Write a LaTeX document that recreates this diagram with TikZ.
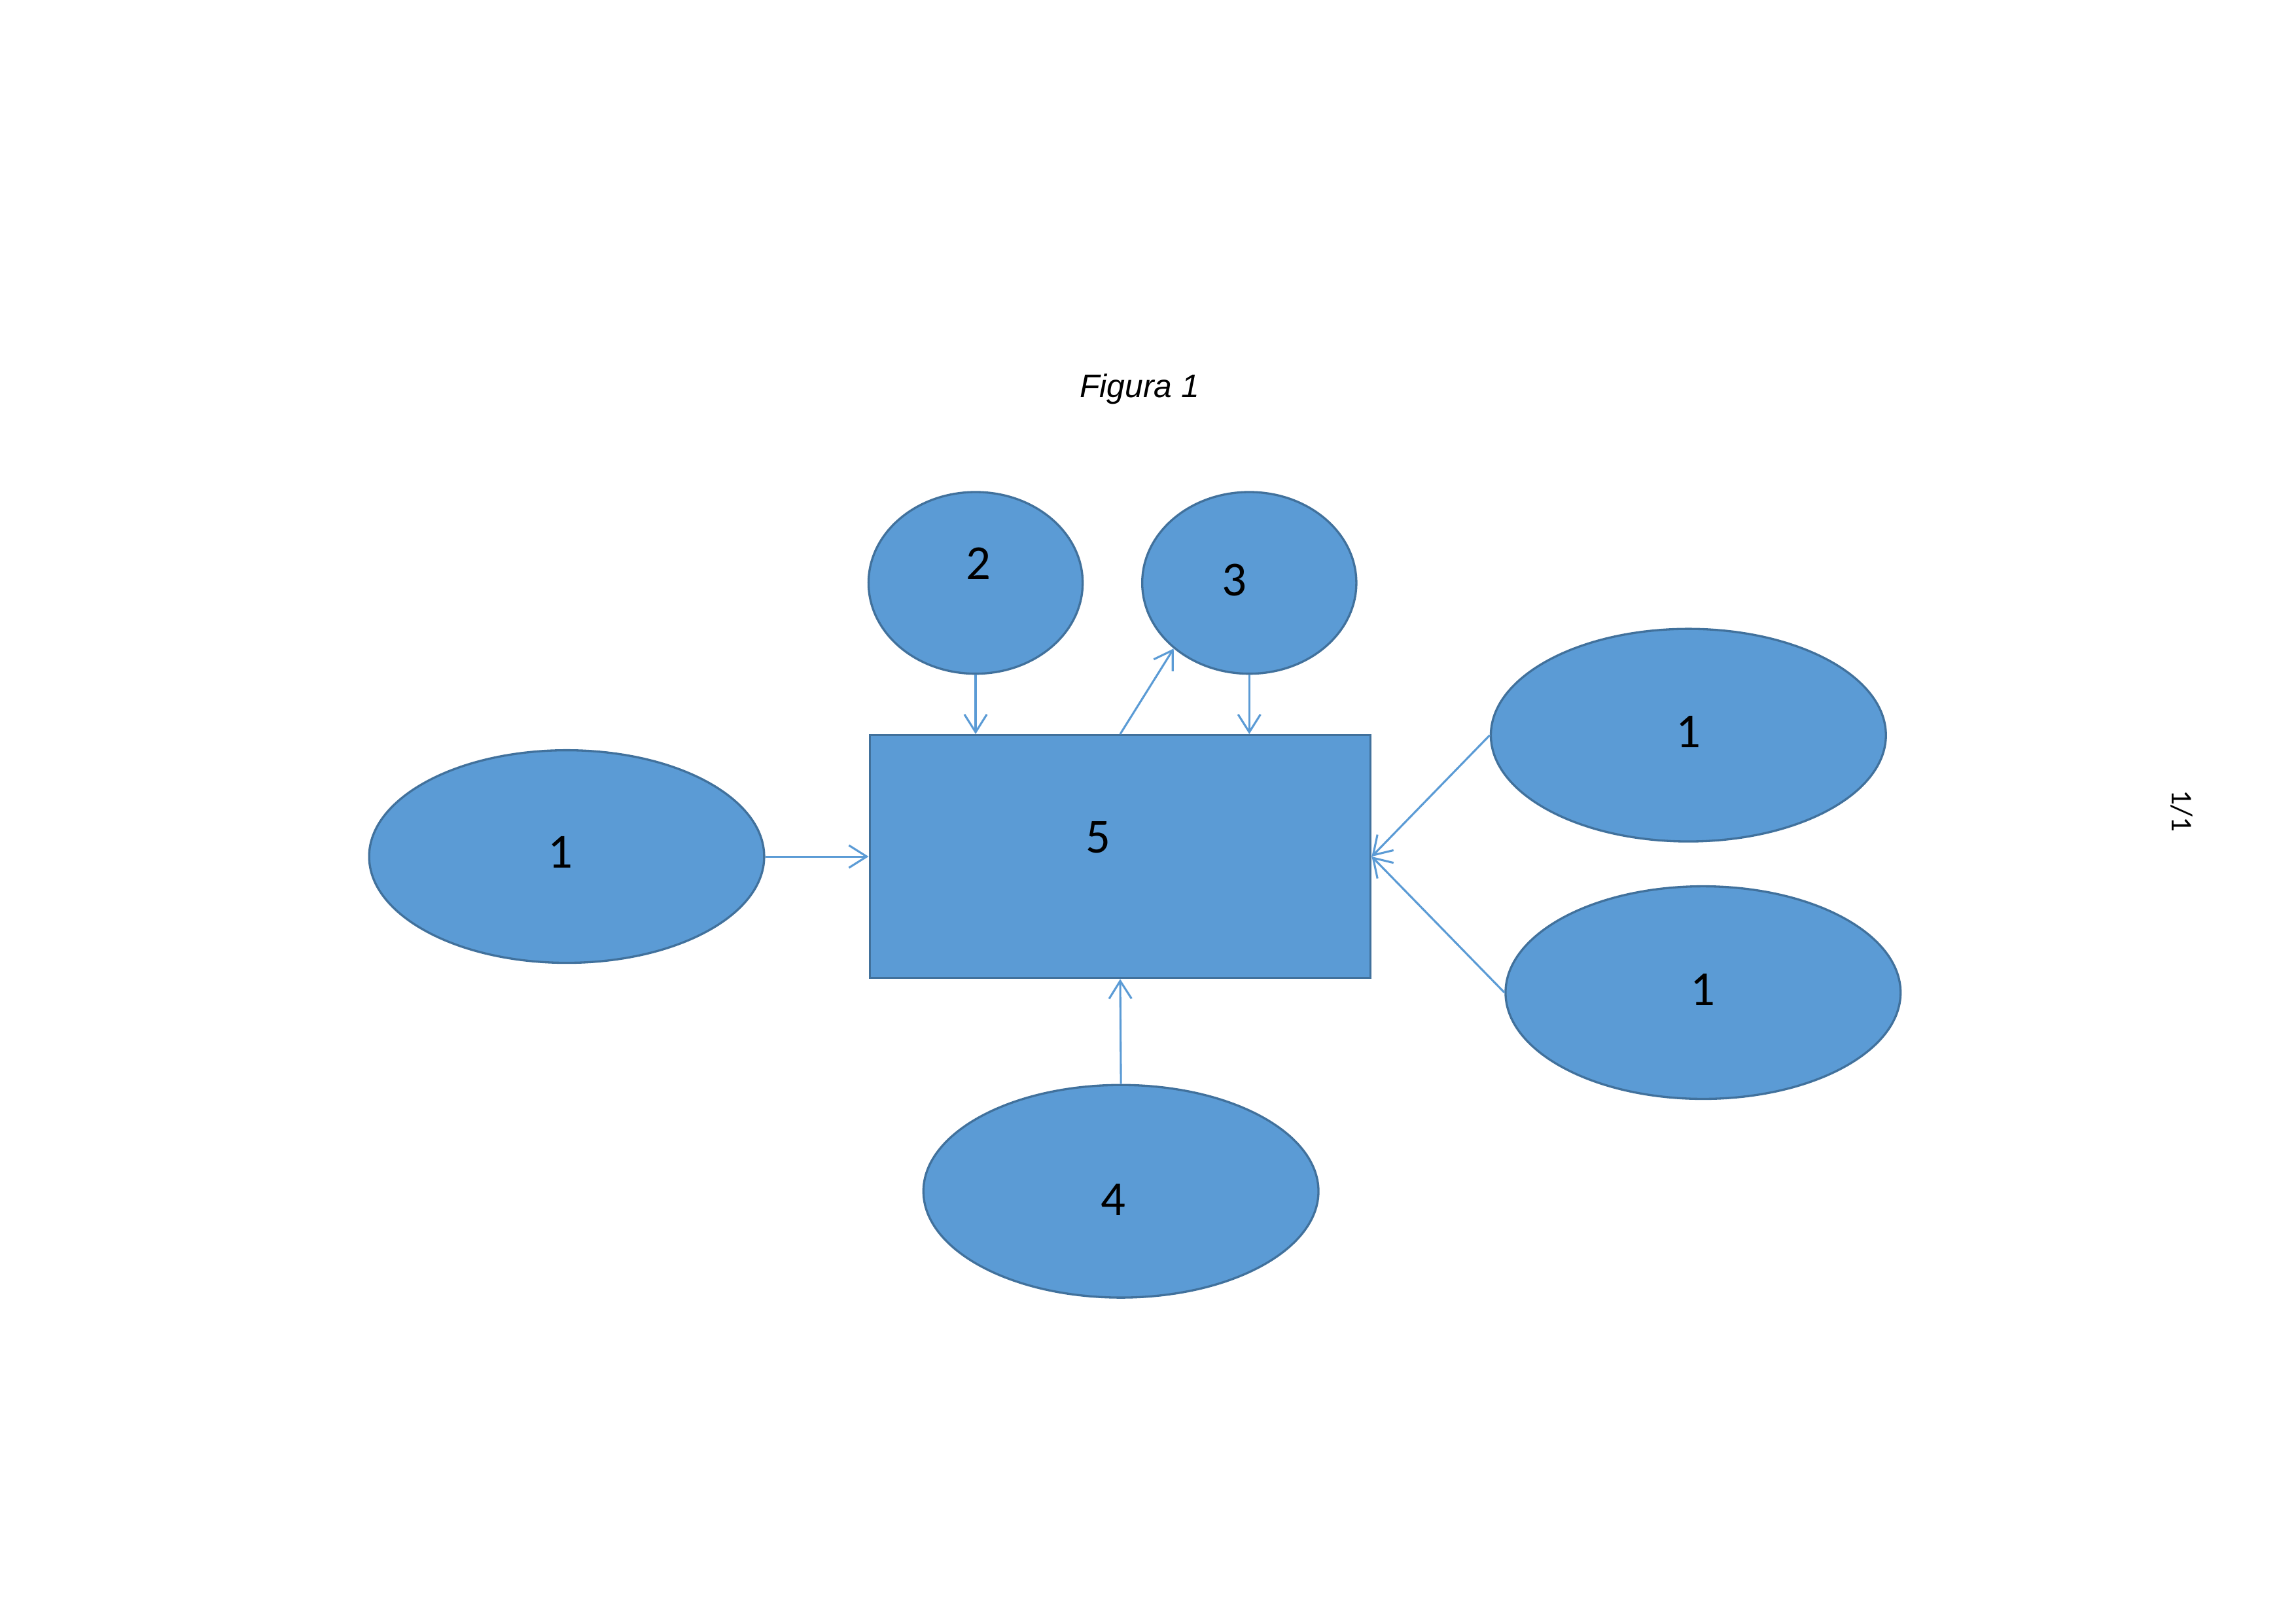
\documentclass[tikz,border=0pt]{standalone}
\usepackage{fontspec}
\setmainfont{Carlito}
\newfontfamily\arialfont{Liberation Sans}
\usepackage{xcolor}
\usepackage{tikz}
\usetikzlibrary{positioning, arrows.meta, shapes.geometric}
\definecolor{ShapeBlue}{RGB}{91,155,213}
\definecolor{EdgeBlue}{RGB}{65,113,156}
\tikzset{
  blob/.style={ellipse, draw=EdgeBlue, line width=0.8pt, fill=ShapeBlue, inner sep=0pt,
    minimum width=5.11cm, minimum height=2.75cm},
  smallblob/.style={blob, minimum width=2.77cm, minimum height=2.35cm},
  mainbox/.style={rectangle, draw=EdgeBlue, line width=0.8pt, fill=ShapeBlue, inner sep=0pt,
    minimum width=6.48cm, minimum height=3.14cm},
  lbl/.style={font=\fontsize{18}{20}\selectfont, text=black, inner sep=0pt},
  arr/.style={-{Straight Barb[length=0.23cm, width=0.29cm, line width=0.75pt]}, line width=0.75pt, ShapeBlue},
}

\begin{document}
\begin{tikzpicture}
  \useasboundingbox (0,0) rectangle (29.7,21);
  % title and page mark
  \node[font=\arialfont\itshape\fontsize{12}{14}\selectfont] (title) at (14.74,15.97) {Figura 1};
  \node[font=\fontsize{11}{13}\selectfont, rotate=-90] (page) at (28.22,10.51) {1/1};
  % shapes
  \node[mainbox] (r5) at (14.49,9.92) {};
  \node[smallblob] (e2) at (12.62,13.46) {};
  \node[smallblob] (e3) at (16.16,13.46) {};
  \node[blob] (eL) at (7.33,9.92) {};
  \node[blob] (eRT) at (21.84,11.49) {};
  \node[blob] (eRB) at (22.03,8.16) {};
  \node[blob] (e4) at (14.50,5.59) {};
  % numbers
  \node[lbl] (t5) at ([xshift=-0.28cm, yshift=0.25cm]r5.center) {5};
  \node[lbl] (t2) at ([xshift=0.04cm, yshift=0.25cm]e2.center) {2};
  \node[lbl] (t3) at ([xshift=-0.19cm, yshift=0.04cm]e3.center) {3};
  \node[lbl] (tL) at ([xshift=-0.08cm, yshift=0.06cm]eL.center) {1};
  \node[lbl] (tRT) at ([yshift=0.04cm]eRT.center) {1};
  \node[lbl] (tRB) at ([yshift=0.04cm]eRB.center) {1};
  \node[lbl] (t4) at ([xshift=-0.10cm, yshift=-0.11cm]e4.center) {4};
  % connectors
  \draw[arr] (eL.east) -- (r5.west);
  \draw[arr] (e2.south) -- (e2.south |- r5.north);
  \draw[arr] (r5.north) -- (e3.221);
  \draw[arr] (e3.south) -- (e3.south |- r5.north);
  \draw[arr] (eRT.west) -- (r5.east);
  \draw[arr] (eRB.west) -- (r5.east);
  \draw[arr] (e4.north) -- (r5.south);
\end{tikzpicture}
\end{document}
